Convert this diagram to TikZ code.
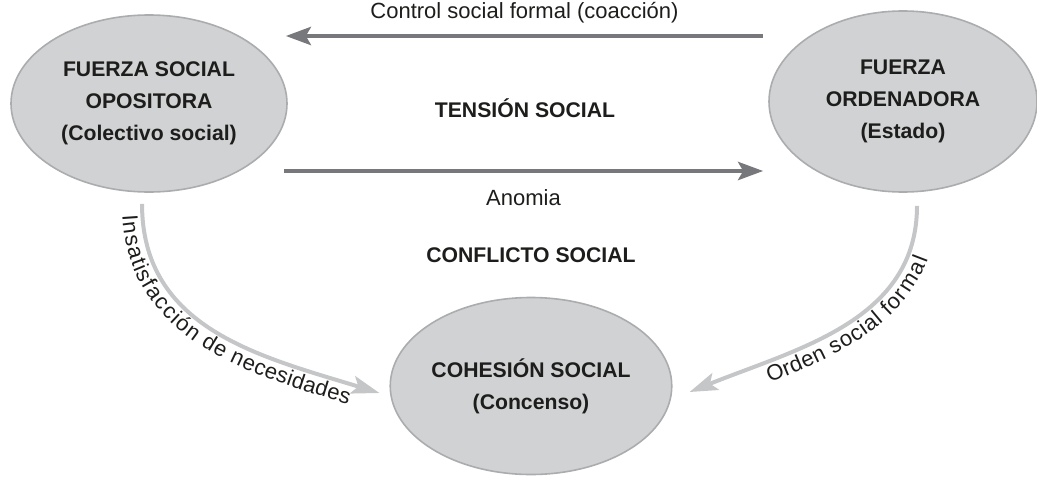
\documentclass[tikz,border=0pt]{standalone}
\usepackage{fontspec}
\setmainfont{Liberation Sans}
\usetikzlibrary{arrows.meta,positioning,calc,shapes.geometric,decorations.text}
\definecolor{ellfill}{HTML}{D1D2D4}
\definecolor{ellline}{HTML}{ABACAE}
\definecolor{darkgr}{HTML}{77787B}
\definecolor{lightgr}{HTML}{C5C6C8}
\definecolor{ink}{HTML}{1D1D1B}
\tikzset{
    >={Stealth[]},
    every picture/.style={line width=0.5pt},
    force/.style={ellipse,fill=ellfill,draw=ellline,line width=0.8pt,inner sep=0pt,
        align=center,text=ink,font=\fontsize{10.6}{16}\selectfont\bfseries},
    title/.style={text=ink,font=\fontsize{10.6}{13}\selectfont\bfseries},
    caption/.style={text=ink,font=\fontsize{11}{13}\selectfont},
    darkarrow/.style={draw=darkgr,line width=2.3pt,-{Stealth[length=12.5pt,width=9pt,inset=2.5pt]}},
    lightarrow/.style={draw=lightgr,line width=2pt,-{Stealth[length=14pt,width=9pt,inset=3pt]}}
}

\begin{document}
\begin{tikzpicture}[x=0.5pt,y=0.5pt]
    \useasboundingbox (0,0) rectangle (1037,478);

    % The three forces
    \node[force,minimum width=138pt,minimum height=88.5pt] (opp) at (149,374.5)
        {FUERZA SOCIAL\\OPOSITORA\\(Colectivo social)};
    \node[force,minimum width=134pt,minimum height=90.5pt] (ord) at (903,376.5)
        {FUERZA\\ORDENADORA\\(Estado)};
    \node[force,minimum width=139pt,minimum height=88.5pt] (coh) at (531,92)
        {COHESIÓN SOCIAL\\(Concenso)};

    % Tension between the two forces
    \draw[darkarrow] ($(ord.west)+(-5,65.5)$) -- node[caption,above=2pt] {Control social formal (coacción)}
        ($(opp.east)+(-2,67.5)$);
    \draw[darkarrow] ($(opp.east)+(-4,-67.5)$) -- node[caption,below=5pt] {Anomia}
        ($(ord.west)+(-5,-69.5)$);
    \node[title] (tension) at (525,370) {TENSIÓN SOCIAL};
    \node[title] (conflict) at (531,223) {CONFLICTO SOCIAL};

    % Towards cohesion
    \draw[lightarrow] ($(opp.south)+(-7,-11)$) to[out=-90,in=163,looseness=1.05] ($(coh.west)+(-10,-7)$);
    \path[decorate,decoration={text along path,raise=-10pt,text align={left indent=5pt},
        text={|\fontsize{11}{13}\selectfont\color{ink}|Insatisfacción de necesidades}}]
        ($(opp.south)+(-7,-11)$) to[out=-90,in=163,looseness=1.05] ($(coh.west)+(-10,-7)$);
    \draw[lightarrow] ($(ord.south)+(14,-13)$) to[out=-90,in=22] ($(coh.east)+(17,-6)$);
    \path[decorate,decoration={text along path,raise=-10pt,text align={left indent=39pt},
        text={|\fontsize{11}{13}\selectfont\color{ink}|Orden social formal}}]
        ($(coh.east)+(17,-6)$) to[out=22,in=-90] ($(ord.south)+(14,-13)$);
\end{tikzpicture}
\end{document}
